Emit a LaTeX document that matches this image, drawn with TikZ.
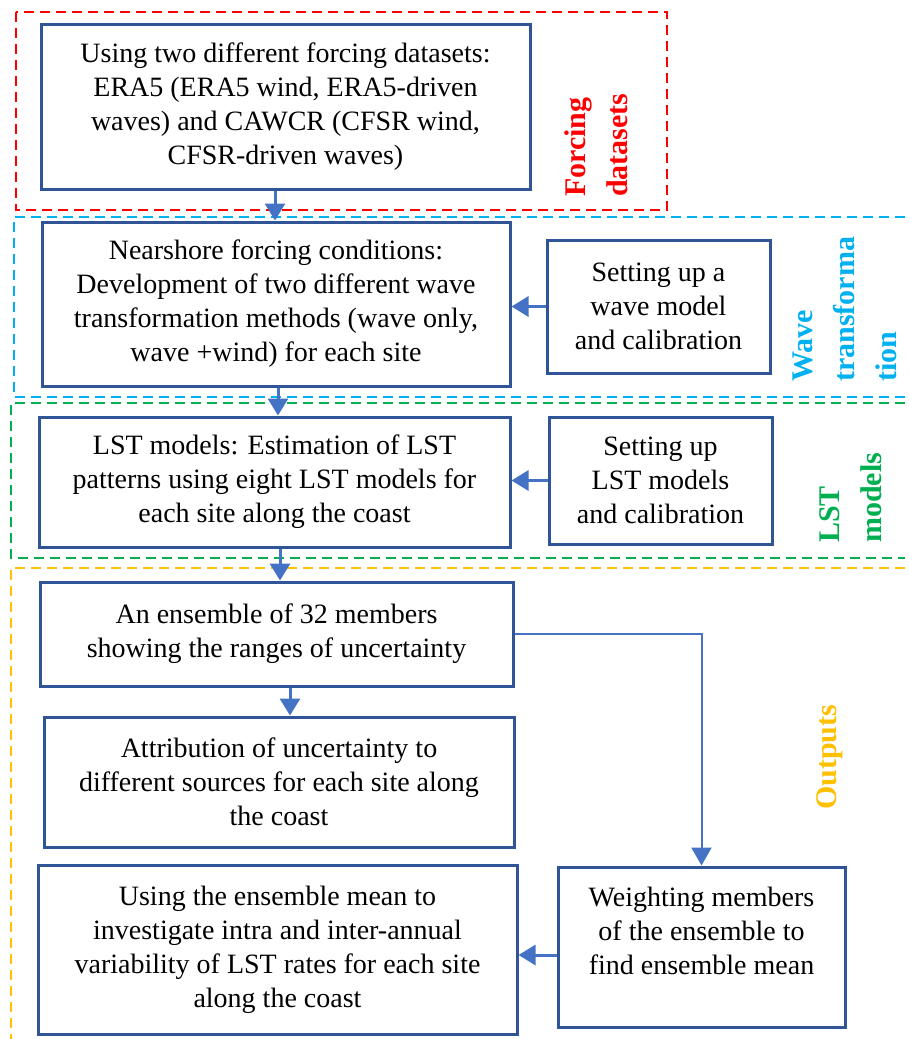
\documentclass[tikz,border=0pt]{standalone}
\usepackage{fontspec}
\setmainfont{Liberation Serif}
\usetikzlibrary{arrows.meta}
\definecolor{boxblue}{HTML}{2F5597}
\definecolor{arrblue}{HTML}{4472C4}
\definecolor{fred}{HTML}{FF0000}
\definecolor{wcyan}{HTML}{00B0F0}
\definecolor{lgreen}{HTML}{00B050}
\definecolor{oyellow}{HTML}{FFC000}

\begin{document}
\begin{tikzpicture}[x=1pt,y=-1pt,
	box/.style={draw=boxblue, line width=3pt, align=center, inner sep=0pt, font=\fontsize{28}{34}\selectfont},
	grp/.style={line width=2.3pt, dash pattern=on 10pt off 6pt},
	lbl/.style={rotate=90, anchor=west, align=left, inner sep=0pt, font=\fontsize{30}{42}\selectfont\bfseries},
	arr/.style={arrblue, line width=3pt, -{Triangle[width=20pt,length=17pt]}},
	thinarr/.style={arrblue, line width=2pt, -{Triangle[width=20pt,length=18pt]}}]
	\useasboundingbox (0,0) rectangle (909,1039);

	% dashed groups
	\draw[grp, fred] (16,12) rectangle (667,210);
	\draw[grp, wcyan] (905,217) -- (14,217) -- (14,397) -- (905,397);
	\draw[grp, lgreen] (905,403) -- (11,403) -- (11,558) -- (905,558);
	\draw[grp, oyellow] (905,568) -- (11,568) -- (11,1039);

	\node[lbl, fred] (lf) at (596,197) {Forcing\\datasets};
	\node[lbl, wcyan] (lw) at (845,382) {Wave\\transforma\\tion};
	\node[lbl, lgreen] (ll) at (851,543) {LST\\models};
	\node[lbl, oyellow] (lo) at (830,810) {Outputs};

	% boxes
	\node[box, minimum width=489pt, minimum height=165pt] (b1) at (285.5,106.5) {Using two different forcing datasets:\\ ERA5 (ERA5 wind, ERA5-driven\\ waves) and CAWCR (CFSR wind,\\ CFSR-driven waves)};
	\node[box, minimum width=468pt, minimum height=164pt] (b2) at (276,304) {Nearshore forcing conditions:\\ Development of two different wave\\ transformation methods (wave only,\\ wave +wind) for each site};
	\node[box, minimum width=223pt, minimum height=133pt] (b3) at (658.5,306.5) {Setting up a\\ wave model\\ and calibration};
	\node[box, minimum width=471pt, minimum height=130pt] (b4) at (274.5,482) {LST models: Estimation of LST\\ patterns using eight LST models for\\ each site along the coast};
	\node[box, minimum width=223pt, minimum height=127pt] (b5) at (660.5,480.5) {Setting up\\ LST models\\ and calibration};
	\node[box, minimum width=473pt, minimum height=104pt] (b6) at (276.5,634) {An ensemble of 32 members\\ showing the ranges of uncertainty};
	\node[box, minimum width=470pt, minimum height=130pt] (b7) at (279,782) {Attribution of uncertainty to\\ different sources for each site along\\ the coast};
	\node[box, minimum width=479pt, minimum height=169pt] (b8) at (277.5,949.5) {Using the ensemble mean to\\ investigate intra and inter-annual\\ variability of LST rates for each site\\ along the coast};
	\node[box, minimum width=287pt, minimum height=160pt, text depth=32pt] (b9) at (701.5,947) {Weighting members\\ of the ensemble to\\ find ensemble mean};

	% arrows
	\draw[arr] (b1.south -| 275,0) -- (b2.north -| 275,0);
	\draw[arr] (b3.west) -- (b3.west -| b2.east);
	\draw[arr] (b2.south -| 278,0) -- (b4.north -| 278,0);
	\draw[arr] (b5.west) -- (b5.west -| b4.east);
	\draw[arr] (b4.south -| 280,0) -- (b6.north -| 280,0);
	\draw[arr] (b6.south -| 290,0) -- (b7.north -| 290,0);
	\draw[thinarr] (b6.east) -| (b9.north);
	\draw[arr] ([yshift=-8pt]b9.west) -- ([yshift=-8pt]b9.west -| b8.east);
\end{tikzpicture}
\end{document}
